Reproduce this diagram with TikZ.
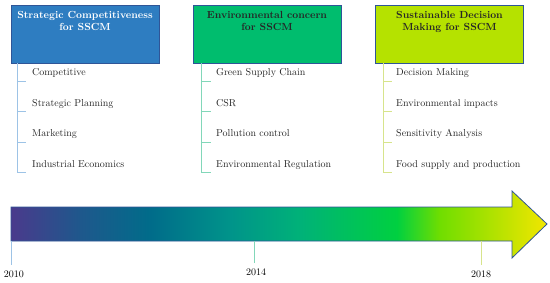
\documentclass[tikz,border=0pt]{standalone}
\usepackage{xcolor}
\usepackage{tikz}
\usetikzlibrary{positioning}
\definecolor{boxblue}{RGB}{46,125,193}
\definecolor{boxgreen}{RGB}{0,189,110}
\definecolor{boxlime}{RGB}{181,226,0}
\definecolor{edgeblue}{RGB}{47,85,151}
\definecolor{lineblue}{RGB}{157,195,230}
\definecolor{lineteal}{RGB}{130,215,185}
\definecolor{linelime}{RGB}{215,228,140}
\definecolor{tla}{RGB}{74,58,140}
\definecolor{tlb}{RGB}{30,88,140}
\definecolor{tlc}{RGB}{0,108,138}
\definecolor{tld}{RGB}{0,148,138}
\definecolor{tle}{RGB}{0,178,120}
\definecolor{tlf}{RGB}{0,208,64}
\definecolor{tlg}{RGB}{112,222,0}
\definecolor{tlh}{RGB}{242,230,0}
\pgfdeclarehorizontalshading{timeline}{100bp}{color(0bp)=(tla); color(25bp)=(tla);
  color(31.5bp)=(tlb); color(38bp)=(tlc); color(45.5bp)=(tld); color(52bp)=(tle);
  color(61bp)=(tlf); color(65bp)=(tlg); color(75bp)=(tlh); color(100bp)=(tlh)}
\tikzset{
    topic/.style={draw=edgeblue, line width=0.8pt, rectangle, minimum width=148pt, minimum height=58pt},
    topictitle/.style={anchor=north, font=\bfseries\fontsize{10.3}{12}\selectfont, align=center, inner sep=0pt, yshift=-7pt},
    item/.style={anchor=base west, font=\fontsize{10}{11}\selectfont, inner sep=0pt, text=black!85},
    branch/.style={line width=0.6pt},
    year/.style={font=\fontsize{10}{11}\selectfont, inner sep=0pt}
}

\begin{document}
\begin{tikzpicture}[x=1pt, y=-1pt]
    \useasboundingbox (0,0) rectangle (550,282);

    \node (sc) [topic, fill=boxblue] at (85,34) {};
    \node (ec) [topic, fill=boxgreen] at (267,34) {};
    \node (sd) [topic, fill=boxlime] at (449.5,34) {};
    \node (sct) [topictitle, text=white] at (sc.north) {Strategic Competitiveness\\for SSCM};
    \node (ect) [topictitle, text=black!85] at (ec.north) {Environmental concern\\for SSCM};
    \node (sdt) [topictitle, text=black!85] at (sd.north) {Sustainable Decision\\Making for SSCM};

    \foreach \txt [count=\i] in {Competitive, Strategic Planning, Marketing, Industrial Economics}
        \node (sc\i) [item] at (32, 45+30.5*\i) {\txt};
    \foreach \txt [count=\i] in {Green Supply Chain, CSR, Pollution control, Environmental Regulation}
        \node (ec\i) [item] at (216, 45+30.5*\i) {\txt};
    \foreach \txt [count=\i] in {Decision Making, Environmental impacts, Sensitivity Analysis, Food supply and production}
        \node (sd\i) [item] at (396, 45+30.5*\i) {\txt};

    \draw [branch, lineblue] (17,63) -- (17,172);
    \draw [branch, lineteal] (201,63) -- (201,172);
    \draw [branch, linelime] (383,63) -- (383,172);
    \foreach \i in {1,...,4} {
        \draw [branch, lineblue] (17, 50.5+30.5*\i) -- (26, 50.5+30.5*\i);
        \draw [branch, lineteal] (201, 50.5+30.5*\i) -- (211, 50.5+30.5*\i);
        \draw [branch, linelime] (383, 50.5+30.5*\i) -- (392, 50.5+30.5*\i);
    }

    \shade [shading=timeline, draw=edgeblue, line width=0.8pt]
        (11,207) -- (512,207) -- (512,191) -- (547,224) -- (512,258) -- (512,241) -- (11,241) -- cycle;

    \node (y2010) [year] at (14,274) {2010};
    \node (y2014) [year] at (256,272) {2014};
    \node (y2018) [year] at (481,274) {2018};
    \draw [branch, lineblue] (11,241) -- (11,265);
    \draw [branch, lineteal] (254,241) -- (254,263);
    \draw [branch, linelime] (481,241) -- (481,265);
\end{tikzpicture}
\end{document}
